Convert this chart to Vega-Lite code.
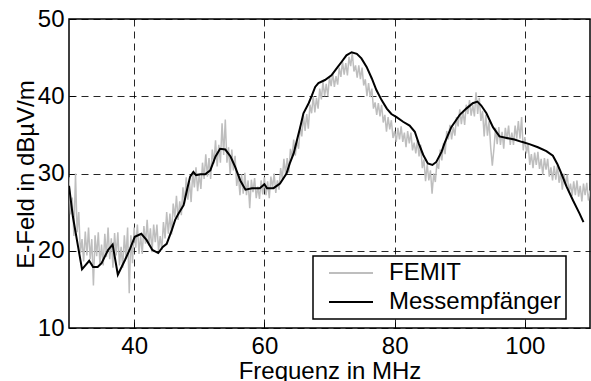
{
 "$schema": "https://vega.github.io/schema/vega-lite/v6.json",
 "width": 521,
 "height": 309,
 "autosize": {"type": "none"},
 "padding": {"left": 69, "top": 19, "right": 1, "bottom": 53},
 "background": "white",
 "config": {
  "font": "Liberation Sans",
  "view": {"stroke": "#000", "strokeWidth": 1.5},
  "axis": {
   "grid": true, "gridColor": "#000", "gridDash": [7, 5], "gridWidth": 1, "gridOpacity": 0.85,
   "domain": false, "ticks": true, "tickSize": -6, "tickColor": "#000", "tickWidth": 1,
   "labelFontSize": 24, "labelColor": "#000", "labelFont": "Liberation Sans",
   "titleFontSize": 24, "titleFontWeight": "normal", "titleColor": "#000", "titleFont": "Liberation Sans"
  },
  "legend": {
   "orient": "none", "legendX": 244, "legendY": 237,
   "fillColor": "#fff", "strokeColor": "#000", "strokeWidth": 1.5,
   "padding": 4, "symbolType": "stroke", "symbolStrokeWidth": 2, "symbolSize": 1936,
   "clipHeight": 26, "rowPadding": 3, "symbolOffset": 11,
   "labelFontSize": 24, "labelColor": "#000", "labelFont": "Liberation Sans", "labelOffset": 15,
   "labelLimit": 0
  }
 },
 "datasets": {
  "femit": [
   {"f":30.00,"v":29.5},{"f":30.25,"v":24.7},{"f":30.50,"v":26.9},{"f":30.75,"v":21.9},{"f":31.00,"v":30.0},{"f":31.25,"v":22.4},{"f":31.50,"v":25.0},{"f":31.75,"v":19.7},
   {"f":32.00,"v":21.5},{"f":32.25,"v":18.6},{"f":32.50,"v":22.5},{"f":32.75,"v":19.4},{"f":33.00,"v":23.0},{"f":33.25,"v":18.9},{"f":33.50,"v":21.5},{"f":33.75,"v":15.5},
   {"f":34.00,"v":22.0},{"f":34.25,"v":19.3},{"f":34.50,"v":22.4},{"f":34.75,"v":18.2},{"f":35.00,"v":20.8},{"f":35.25,"v":18.1},{"f":35.50,"v":22.2},{"f":35.75,"v":19.2},
   {"f":36.00,"v":23.0},{"f":36.25,"v":18.9},{"f":36.50,"v":21.6},{"f":36.75,"v":17.8},{"f":37.00,"v":22.3},{"f":37.25,"v":19.4},{"f":37.50,"v":22.4},{"f":37.75,"v":18.1},
   {"f":38.00,"v":20.5},{"f":38.25,"v":17.8},{"f":38.50,"v":22.0},{"f":38.75,"v":19.1},{"f":39.00,"v":23.0},{"f":39.25,"v":14.5},{"f":39.50,"v":22.0},{"f":39.75,"v":18.4},
   {"f":40.00,"v":23.0},{"f":40.25,"v":20.4},{"f":40.50,"v":23.4},{"f":40.75,"v":19.6},{"f":41.00,"v":22.0},{"f":41.25,"v":19.6},{"f":41.50,"v":23.2},{"f":41.75,"v":20.9},
   {"f":42.00,"v":24.0},{"f":42.25,"v":20.7},{"f":42.50,"v":22.9},{"f":42.75,"v":19.8},{"f":43.00,"v":23.4},{"f":43.25,"v":21.1},{"f":43.50,"v":23.4},{"f":43.75,"v":20.0},
   {"f":44.00,"v":21.9},{"f":44.25,"v":20.1},{"f":44.50,"v":23.7},{"f":44.75,"v":21.6},{"f":45.00,"v":25.0},{"f":45.25,"v":22.2},{"f":45.50,"v":24.8},{"f":45.75,"v":22.1},
   {"f":46.00,"v":26.1},{"f":46.25,"v":24.3},{"f":46.50,"v":27.1},{"f":46.75,"v":24.0},{"f":47.00,"v":26.4},{"f":47.25,"v":24.6},{"f":47.50,"v":28.2},{"f":47.75,"v":26.1},
   {"f":48.00,"v":29.5},{"f":48.25,"v":26.6},{"f":48.50,"v":29.0},{"f":48.75,"v":26.3},{"f":49.00,"v":30.1},{"f":49.25,"v":28.2},{"f":49.50,"v":30.8},{"f":49.75,"v":27.7},
   {"f":50.00,"v":29.9},{"f":50.25,"v":28.0},{"f":50.50,"v":31.4},{"f":50.75,"v":29.3},{"f":51.00,"v":32.5},{"f":51.25,"v":29.6},{"f":51.50,"v":32.0},{"f":51.75,"v":29.3},
   {"f":52.00,"v":33.1},{"f":52.25,"v":31.3},{"f":52.50,"v":34.3},{"f":52.75,"v":30.9},{"f":53.00,"v":33.7},{"f":53.25,"v":31.4},{"f":53.50,"v":36.5},{"f":53.75,"v":32.4},
   {"f":54.00,"v":37.0},{"f":54.25,"v":31.4},{"f":54.50,"v":33.4},{"f":54.75,"v":29.8},{"f":55.00,"v":33.1},{"f":55.25,"v":30.4},{"f":55.50,"v":32.3},{"f":55.75,"v":28.4},
   {"f":56.00,"v":29.9},{"f":56.25,"v":27.2},{"f":56.50,"v":29.9},{"f":56.75,"v":27.4},{"f":57.00,"v":30.1},{"f":57.25,"v":27.2},{"f":57.50,"v":29.1},{"f":57.75,"v":25.5},
   {"f":58.00,"v":29.2},{"f":58.25,"v":27.6},{"f":58.50,"v":29.4},{"f":58.75,"v":26.8},{"f":59.00,"v":28.3},{"f":59.25,"v":26.7},{"f":59.50,"v":29.1},{"f":59.75,"v":27.3},
   {"f":60.00,"v":29.5},{"f":60.25,"v":27.2},{"f":60.50,"v":29.0},{"f":60.75,"v":26.8},{"f":61.00,"v":29.6},{"f":61.25,"v":28.1},{"f":61.50,"v":30.0},{"f":61.75,"v":27.5},
   {"f":62.00,"v":29.1},{"f":62.25,"v":27.9},{"f":62.50,"v":30.7},{"f":62.75,"v":29.3},{"f":63.00,"v":31.9},{"f":63.25,"v":29.9},{"f":63.50,"v":32.0},{"f":63.75,"v":30.1},
   {"f":64.00,"v":33.2},{"f":64.25,"v":32.1},{"f":64.50,"v":34.4},{"f":64.75,"v":32.3},{"f":65.00,"v":34.3},{"f":65.25,"v":33.2},{"f":65.50,"v":36.1},{"f":65.75,"v":34.8},
   {"f":66.00,"v":37.5},{"f":66.25,"v":35.5},{"f":66.50,"v":37.7},{"f":66.75,"v":35.8},{"f":67.00,"v":38.9},{"f":67.25,"v":37.8},{"f":67.50,"v":40.0},{"f":67.75,"v":37.9},
   {"f":68.00,"v":39.8},{"f":68.25,"v":38.4},{"f":68.50,"v":41.0},{"f":68.75,"v":39.6},{"f":69.00,"v":41.9},{"f":69.25,"v":40.0},{"f":69.50,"v":41.6},{"f":69.75,"v":40.0},
   {"f":70.00,"v":42.5},{"f":70.25,"v":41.3},{"f":70.50,"v":43.0},{"f":70.75,"v":41.2},{"f":71.00,"v":42.6},{"f":71.25,"v":41.5},{"f":71.50,"v":43.7},{"f":71.75,"v":42.5},
   {"f":72.00,"v":44.5},{"f":72.25,"v":42.8},{"f":72.50,"v":44.3},{"f":72.75,"v":42.7},{"f":73.00,"v":45.1},{"f":73.25,"v":43.9},{"f":73.50,"v":45.6},{"f":73.75,"v":43.2},
   {"f":74.00,"v":44.0},{"f":74.25,"v":42.4},{"f":74.50,"v":44.0},{"f":74.75,"v":42.2},{"f":75.00,"v":43.7},{"f":75.25,"v":41.4},{"f":75.50,"v":42.2},{"f":75.75,"v":40.0},
   {"f":76.00,"v":41.7},{"f":76.25,"v":39.9},{"f":76.50,"v":41.0},{"f":76.75,"v":38.4},{"f":77.00,"v":39.2},{"f":77.25,"v":37.6},{"f":77.50,"v":39.1},{"f":77.75,"v":37.4},
   {"f":78.00,"v":38.9},{"f":78.25,"v":36.6},{"f":78.50,"v":37.6},{"f":78.75,"v":35.4},{"f":79.00,"v":37.3},{"f":79.25,"v":35.7},{"f":79.50,"v":36.9},{"f":79.75,"v":34.6},
   {"f":80.00,"v":35.5},{"f":80.25,"v":34.1},{"f":80.50,"v":35.9},{"f":80.75,"v":34.4},{"f":81.00,"v":36.1},{"f":81.25,"v":34.1},{"f":81.50,"v":35.3},{"f":81.75,"v":33.4},
   {"f":82.00,"v":35.5},{"f":82.25,"v":33.9},{"f":82.50,"v":35.3},{"f":82.75,"v":33.0},{"f":83.00,"v":34.0},{"f":83.25,"v":32.6},{"f":83.50,"v":34.3},{"f":83.75,"v":32.2},
   {"f":84.00,"v":33.7},{"f":84.25,"v":30.7},{"f":84.50,"v":31.8},{"f":84.75,"v":29.0},{"f":85.00,"v":31.2},{"f":85.25,"v":29.1},{"f":85.50,"v":30.4},{"f":85.75,"v":27.4},
   {"f":86.00,"v":30.0},{"f":86.25,"v":28.9},{"f":86.50,"v":31.4},{"f":86.75,"v":30.6},{"f":87.00,"v":33.1},{"f":87.25,"v":31.7},{"f":87.50,"v":33.9},{"f":87.75,"v":32.5},
   {"f":88.00,"v":35.5},{"f":88.25,"v":34.4},{"f":88.50,"v":36.3},{"f":88.75,"v":34.4},{"f":89.00,"v":36.0},{"f":89.25,"v":34.9},{"f":89.50,"v":37.3},{"f":89.75,"v":36.1},
   {"f":90.00,"v":38.3},{"f":90.25,"v":36.4},{"f":90.50,"v":38.1},{"f":90.75,"v":36.3},{"f":91.00,"v":38.9},{"f":91.25,"v":37.7},{"f":91.50,"v":39.5},{"f":91.75,"v":37.5},
   {"f":92.00,"v":38.9},{"f":92.25,"v":37.4},{"f":92.50,"v":40.5},{"f":92.75,"v":37.7},{"f":93.00,"v":39.8},{"f":93.25,"v":36.8},{"f":93.50,"v":38.1},{"f":93.75,"v":34.8},
   {"f":94.00,"v":37.6},{"f":94.25,"v":34.9},{"f":94.50,"v":36.8},{"f":94.75,"v":33.4},{"f":95.00,"v":31.0},{"f":95.25,"v":33.2},{"f":95.50,"v":35.9},{"f":95.75,"v":33.8},
   {"f":96.00,"v":36.0},{"f":96.25,"v":33.7},{"f":96.50,"v":35.4},{"f":96.75,"v":33.2},{"f":97.00,"v":35.9},{"f":97.25,"v":34.4},{"f":97.50,"v":36.2},{"f":97.75,"v":33.7},
   {"f":98.00,"v":35.3},{"f":98.25,"v":33.7},{"f":98.50,"v":36.2},{"f":98.75,"v":34.5},{"f":99.00,"v":36.8},{"f":99.25,"v":34.5},{"f":99.50,"v":37.3},{"f":99.75,"v":33.0},
   {"f":100.00,"v":34.7},{"f":100.25,"v":32.6},{"f":100.50,"v":33.9},{"f":100.75,"v":31.1},{"f":101.00,"v":32.5},{"f":101.25,"v":30.7},{"f":101.50,"v":32.7},{"f":101.75,"v":31.1},
   {"f":102.00,"v":32.8},{"f":102.25,"v":30.6},{"f":102.50,"v":31.9},{"f":102.75,"v":29.8},{"f":103.00,"v":32.0},{"f":103.25,"v":30.5},{"f":103.50,"v":31.9},{"f":103.75,"v":29.6},
   {"f":104.00,"v":30.8},{"f":104.25,"v":29.1},{"f":104.50,"v":31.0},{"f":104.75,"v":29.2},{"f":105.00,"v":31.1},{"f":105.25,"v":28.8},{"f":105.50,"v":30.1},{"f":105.75,"v":27.9},
   {"f":106.00,"v":30.0},{"f":106.25,"v":28.5},{"f":106.50,"v":29.9},{"f":106.75,"v":27.6},{"f":107.00,"v":28.7},{"f":107.25,"v":27.1},{"f":107.50,"v":29.0},{"f":107.75,"v":27.2},
   {"f":108.00,"v":29.1},{"f":108.25,"v":27.0},{"f":108.50,"v":28.4},{"f":108.75,"v":26.4},{"f":109.00,"v":28.7},{"f":109.25,"v":27.2},{"f":109.50,"v":28.8},{"f":109.75,"v":26.5},
   {"f":110.00,"v":27.8}
  ],
  "mess": [
   {"f":30.0,"v":28.4},{"f":30.6,"v":24.4},{"f":31.4,"v":20.5},{"f":32.0,"v":17.6},{"f":33.1,"v":18.7},{"f":33.7,"v":17.9},
   {"f":34.4,"v":17.9},{"f":35.0,"v":18.4},{"f":36.0,"v":20.1},{"f":36.7,"v":20.8},{"f":37.5,"v":16.9},{"f":38.6,"v":18.8},
   {"f":39.4,"v":20.3},{"f":40.1,"v":21.8},{"f":41.1,"v":22.2},{"f":41.9,"v":21.4},{"f":42.8,"v":20.1},{"f":43.7,"v":19.7},
   {"f":44.4,"v":20.5},{"f":45.0,"v":20.9},{"f":45.8,"v":22.7},{"f":46.3,"v":24.0},{"f":46.8,"v":24.8},{"f":47.6,"v":25.9},
   {"f":48.1,"v":27.8},{"f":48.6,"v":29.6},{"f":49.1,"v":30.2},{"f":49.5,"v":29.8},{"f":50.2,"v":29.9},{"f":50.9,"v":29.9},
   {"f":51.7,"v":30.4},{"f":52.5,"v":32.2},{"f":53.2,"v":33.2},{"f":54.0,"v":33.1},{"f":54.8,"v":32.2},{"f":55.5,"v":30.9},
   {"f":56.3,"v":29.1},{"f":57.1,"v":27.9},{"f":58.1,"v":28.1},{"f":59.3,"v":28.1},{"f":60.0,"v":28.6},{"f":60.4,"v":28.1},
   {"f":61.4,"v":28.1},{"f":62.4,"v":28.7},{"f":63.4,"v":30.0},{"f":63.9,"v":31.3},{"f":64.5,"v":32.6},{"f":65.0,"v":34.3},
   {"f":65.5,"v":36.0},{"f":66.0,"v":37.8},{"f":66.8,"v":39.1},{"f":67.3,"v":40.1},{"f":67.8,"v":41.2},{"f":68.3,"v":41.7},
   {"f":69.3,"v":42.1},{"f":70.3,"v":42.7},{"f":71.1,"v":43.6},{"f":71.9,"v":44.5},{"f":72.6,"v":45.3},{"f":73.4,"v":45.7},
   {"f":74.2,"v":45.5},{"f":74.9,"v":44.9},{"f":75.7,"v":43.8},{"f":76.5,"v":42.3},{"f":77.2,"v":40.8},{"f":78.0,"v":39.5},
   {"f":78.8,"v":38.4},{"f":79.5,"v":37.7},{"f":80.3,"v":37.3},{"f":81.3,"v":36.7},{"f":82.3,"v":36.2},{"f":83.1,"v":35.4},
   {"f":83.7,"v":33.9},{"f":84.4,"v":32.4},{"f":85.1,"v":31.3},{"f":85.8,"v":31.1},{"f":86.4,"v":31.5},{"f":87.2,"v":32.8},
   {"f":87.7,"v":34.0},{"f":88.7,"v":36.0},{"f":90.0,"v":37.6},{"f":91.0,"v":38.4},{"f":92.0,"v":39.1},{"f":92.7,"v":39.3},
   {"f":93.3,"v":38.8},{"f":94.1,"v":37.8},{"f":95.1,"v":36.0},{"f":96.1,"v":34.8},{"f":97.2,"v":34.6},{"f":98.4,"v":34.4},
   {"f":99.5,"v":34.1},{"f":100.7,"v":33.8},{"f":102.0,"v":33.4},{"f":103.3,"v":32.9},{"f":104.3,"v":32.3},{"f":105.0,"v":31.2},{"f":105.6,"v":30.0},
   {"f":106.4,"v":28.3},{"f":107.4,"v":26.5},{"f":108.4,"v":24.8},{"f":109.0,"v":23.7}
  ]
 },
 "encoding": {
  "x": {"field": "f", "type": "quantitative", "scale": {"domain": [30, 110], "nice": false, "zero": false},
        "axis": {"values": [40, 60, 80, 100], "title": "Frequenz in MHz", "labelPadding": 31, "labelBaseline": "alphabetic",
                 "titleX": 260.5, "titleY": 50, "titleBaseline": "alphabetic", "titleAnchor": "middle"}},
  "y": {"field": "v", "type": "quantitative", "scale": {"domain": [10, 50], "nice": false, "zero": false},
        "axis": {"values": [10, 20, 30, 40, 50], "title": "E-Feld in dBµV/m", "labelPadding": 11,
                 "titleX": -36, "titleY": 155, "titleBaseline": "alphabetic", "titleAngle": -90, "titleAnchor": "middle"}}
 },
 "layer": [
  {"data": {"name": "femit"}, "mark": {"type": "line", "strokeWidth": 1.5, "clip": true},
   "encoding": {"color": {"datum": "FEMIT", "type": "nominal",
     "scale": {"domain": ["FEMIT", "Messempfänger"], "range": ["#bebebe", "#000000"]},
     "legend": {"title": null, "labelExpr": "datum.label + '\u00a0\u00a0'"}}}},
  {"data": {"name": "mess"}, "mark": {"type": "line", "strokeWidth": 2, "clip": true},
   "encoding": {"color": {"datum": "Messempfänger", "type": "nominal"}}}
 ]
}
